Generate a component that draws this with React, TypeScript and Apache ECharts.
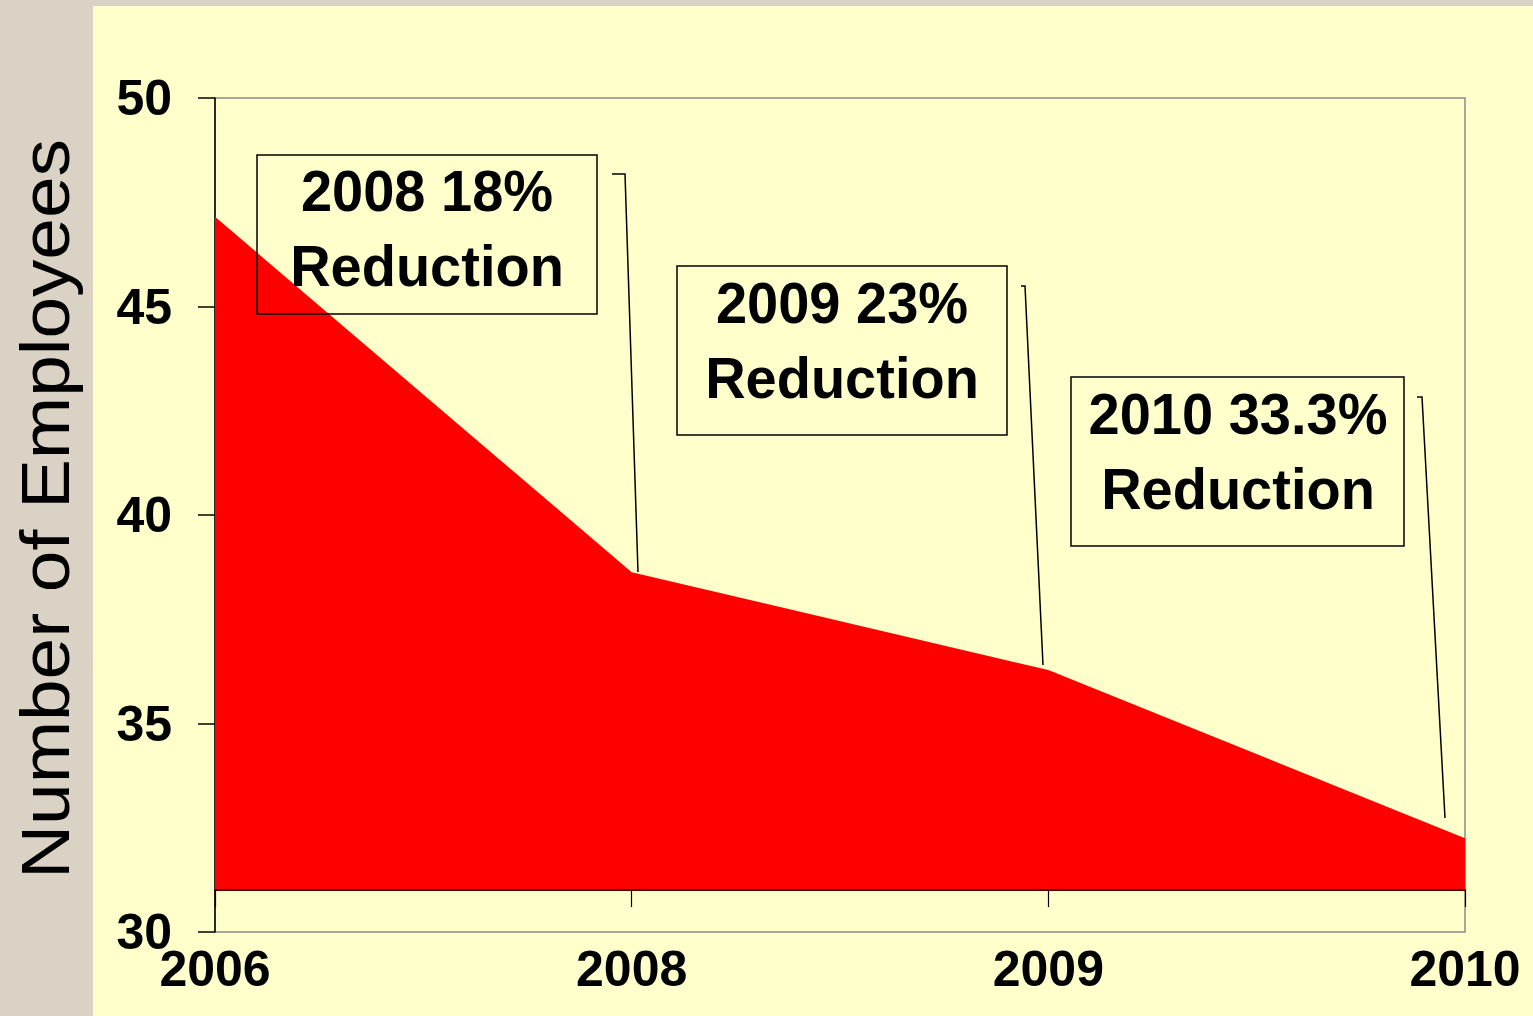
import React, { useEffect, useRef } from "react";
import * as echarts from "echarts";

const years = ["2006", "2008", "2009", "2010"];
const employees = [47.15, 38.63, 36.28, 32.25];
const yTicks = { min: 30, max: 50, step: 5 };
const areaBase = 31;
const yTitle = "Number of Employees";
const notes = ["2008 18%\nReduction", "2009 23%\nReduction", "2010 33.3%\nReduction"];

const FONT = "'Liberation Sans', Arial, sans-serif";

export default function App() {
  const ref = useRef<HTMLDivElement>(null);

  useEffect(() => {
    if (!ref.current) return;
    const chart = echarts.init(ref.current, undefined, { renderer: "svg" });

    const boxes = [
      { x: 257, y: 155, w: 340, h: 159, cx: 427, cy: 228 },
      { x: 677, y: 266, w: 330, h: 169, cx: 842, cy: 340 },
      { x: 1071, y: 377, w: 333, h: 169, cx: 1238, cy: 451 },
    ];
    const leaders = [
      [[612, 174], [625, 174], [638, 572]],
      [[1021, 286], [1025, 286], [1043, 665]],
      [[1417, 397], [1422, 397], [1445, 818]],
    ];

    const graphic: any[] = [];
    boxes.forEach((b, i) => {
      graphic.push({
        type: "rect",
        z: 10,
        shape: { x: b.x, y: b.y, width: b.w, height: b.h },
        style: { fill: "none", stroke: "#000", lineWidth: 1.5 },
      });
      graphic.push({
        type: "text",
        z: 11,
        x: b.cx,
        y: b.cy,
        scaleY: 1.04,
        style: {
          text: notes[i],
          fill: "#000",
          font: `bold 56px ${FONT}`,
          lineHeight: 72,
          align: "center",
          verticalAlign: "middle",
        },
      });
      graphic.push({
        type: "polyline",
        z: 10,
        shape: { points: leaders[i] },
        style: { stroke: "#000", lineWidth: 1.5, fill: "none" },
      });
    });
    graphic.push({
      type: "text",
      z: 11,
      x: 45,
      y: 509,
      rotation: Math.PI / 2,
      scaleX: 1.1,
      style: {
        text: yTitle,
        fill: "#000",
        font: `normal 68px ${FONT}`,
        align: "center",
        verticalAlign: "middle",
      },
    });

    chart.setOption({
      animation: false,
      grid: {
        left: 215,
        top: 98,
        right: 68,
        bottom: 84,
        show: true,
        borderColor: "#8a8a8a",
        borderWidth: 1.5,
        backgroundColor: "transparent",
        containLabel: false,
        outerBoundsMode: "none",
      },
      xAxis: [
        {
          type: "category",
          data: years,
          boundaryGap: false,
          position: "bottom",
          axisLine: { show: false },
          axisTick: { show: false },
          splitLine: { show: false },
          axisLabel: {
            interval: 0,
            margin: 12,
            color: "#000",
            fontSize: 50,
            fontWeight: "bold",
            fontFamily: FONT,
          },
        },
        {
          type: "category",
          data: years,
          boundaryGap: false,
          position: "bottom",
          offset: -42,
          axisLine: { show: true, onZero: false, lineStyle: { color: "#4a0000", width: 2 } },
          axisTick: { show: true, inside: false, length: 17, lineStyle: { color: "#000", width: 1.2 } },
          axisLabel: { show: false },
          splitLine: { show: false },
          z: 5,
        },
      ],
      yAxis: {
        type: "value",
        min: yTicks.min,
        max: yTicks.max,
        interval: yTicks.step,
        axisLine: { show: true, lineStyle: { color: "#000", width: 1.5 } },
        axisTick: { show: true, length: 17, lineStyle: { color: "#000", width: 1.5 } },
        splitLine: { show: false },
        axisLabel: {
          margin: 43,
          color: "#000",
          fontSize: 50,
          fontWeight: "bold",
          fontFamily: FONT,
        },
      },
      series: [
        {
          type: "line",
          data: employees,
          xAxisIndex: 0,
          symbol: "none",
          lineStyle: { width: 0, color: "#ff0000" },
          itemStyle: { color: "#ff0000" },
          areaStyle: { color: "#ff0000", opacity: 1, origin: areaBase },
          z: 2,
        },
      ],
      graphic,
    });

    return () => chart.dispose();
  }, []);

  return (
    <div
      style={{
        position: "fixed",
        left: 0,
        top: 0,
        width: 1533,
        height: 1016,
        background: "#d9d2c5",
        overflow: "hidden",
      }}
    >
      <div
        style={{
          position: "absolute",
          left: 93,
          top: 6,
          right: 0,
          bottom: 0,
          background: "#ffffcc",
        }}
      />
      <div ref={ref} style={{ position: "absolute", left: 0, top: 0, width: 1533, height: 1016 }} />
    </div>
  );
}
